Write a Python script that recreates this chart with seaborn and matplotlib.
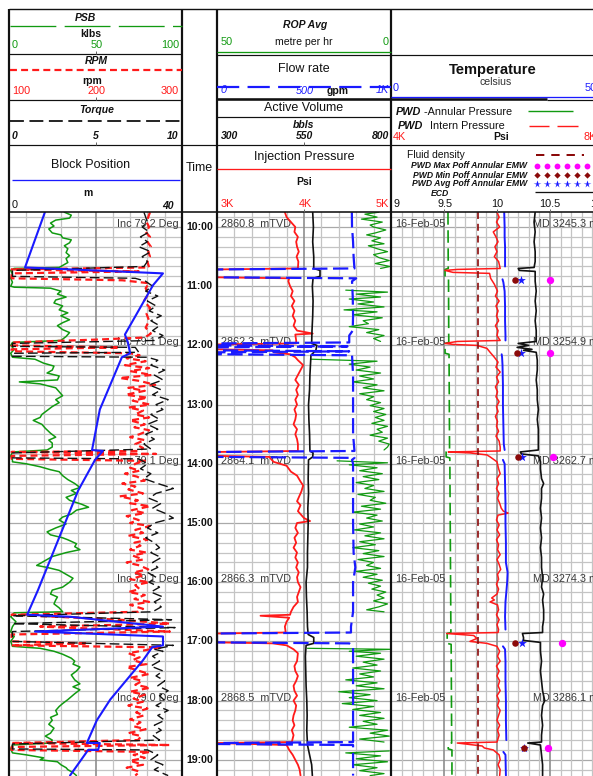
import numpy as np
import pandas as pd
import matplotlib
matplotlib.use("Agg")
import matplotlib.pyplot as plt
import seaborn as sns

# ---------------------------------------------------------------- data
# Track 1: block position (m), PSB (klbs), RPM, torque
BLOCK_POS = [("9:45", 8.3), ("10:41", 3.7), ("10:47", 35.6), ("10:59", 33.3), ("11:49", 26.8),
             ("11:57", 27.5), ("12:08", 28.0), ("12:12", 26.1), ("13:05", 21.0), ("13:46", 19.2),
             ("13:47", 21.7), ("13:56", 19.9), ("14:27", 16.0), ("15:43", 9.0), ("16:08", 6.7),
             ("16:33", 4.2), ("16:35", 14.1), ("16:45", 35.6), ("16:50", 6.0), ("16:55", 35.6),
             ("17:04", 35.6), ("17:06", 33.1), ("17:19", 31.0), ("17:59", 23.4), ("18:20", 20.3),
             ("18:43", 18.0), ("18:43", 21.0), ("18:50", 20.6), ("18:50", 18.3), ("19:16", 14.1)]

PSB = [("9:45", 32), ("9:48", 36), ("9:51", 35), ("9:53", 27), ("9:56", 24), ("9:59", 26), ("10:02", 23),
       ("10:06", 25), ("10:08", 30), ("10:11", 31), ("10:13", 36), ("10:16", 35), ("10:19", 32), ("10:22", 34),
       ("10:26", 33), ("10:29", 35), ("10:32", 33), ("10:36", 34), ("10:39", 31), ("10:41", 29),
       ("10:42", 3), ("10:44", 1), ("10:48", 2), ("10:52", 1), ("10:56", 2), ("11:00", 1), ("11:01", 3),
       ("11:02", 24), ("11:05", 30), ("11:08", 28), ("11:11", 33), ("11:14", 27), ("11:17", 26), ("11:20", 31),
       ("11:24", 29), ("11:27", 34), ("11:30", 30), ("11:34", 35), ("11:37", 31), ("11:40", 28), ("11:44", 31),
       ("11:47", 35), ("11:51", 33), ("11:55", 30),
       ("11:57", 2), ("12:00", 1), ("12:04", 3), ("12:08", 1), ("12:12", 2),
       ("12:14", 15), ("12:18", 20), ("12:21", 26), ("12:25", 25), ("12:28", 22), ("12:31", 29), ("12:35", 28),
       ("12:37", 6), ("12:39", 18), ("12:43", 27), ("12:47", 29), ("12:51", 31), ("12:55", 27), ("12:58", 29),
       ("13:02", 25), ("13:06", 22), ("13:10", 19), ("13:13", 18), ("13:16", 14), ("13:20", 19), ("13:24", 21),
       ("13:29", 24), ("13:33", 27), ("13:36", 23), ("13:39", 25), ("13:43", 25), ("13:46", 22),
       ("13:48", 2), ("13:52", 1), ("13:56", 2), ("13:58", 2),
       ("14:00", 10), ("14:03", 18), ("14:06", 24), ("14:08", 29), ("14:12", 31), ("14:16", 34), ("14:20", 38),
       ("14:24", 41), ("14:27", 36), ("14:30", 39), ("14:34", 33), ("14:37", 35), ("14:41", 42), ("14:44", 46),
       ("14:47", 39), ("14:51", 36), ("14:54", 31), ("14:57", 29), ("15:01", 33), ("15:05", 27), ("15:09", 22),
       ("15:12", 24), ("15:15", 31), ("15:17", 34), ("15:21", 39), ("15:24", 38), ("15:27", 41), ("15:30", 33),
       ("15:34", 25), ("15:38", 21), ("15:43", 16), ("15:45", 22), ("15:48", 29), ("15:52", 33), ("15:56", 37),
       ("16:00", 35), ("16:05", 31), ("16:08", 25), ("16:12", 24), ("16:15", 28), ("16:18", 27), ("16:22", 26),
       ("16:26", 29), ("16:30", 31),
       ("16:31", 3), ("16:35", 1), ("16:40", 4), ("16:45", 2), ("16:50", 1), ("16:55", 3), ("17:00", 1),
       ("17:05", 2),
       ("17:07", 18), ("17:10", 26), ("17:13", 31), ("17:17", 36), ("17:20", 38), ("17:23", 37), ("17:26", 41),
       ("17:30", 39), ("17:34", 36), ("17:39", 38), ("17:43", 41), ("17:46", 37), ("17:49", 41), ("17:53", 38),
       ("17:56", 36), ("17:59", 34), ("18:03", 31), ("18:06", 29), ("18:10", 27), ("18:14", 28), ("18:17", 24),
       ("18:20", 25), ("18:24", 23), ("18:28", 26), ("18:33", 24), ("18:36", 21), ("18:40", 25), ("18:43", 24),
       ("18:45", 2), ("18:49", 1), ("18:53", 2),
       ("18:55", 10), ("18:58", 20), ("19:00", 18), ("19:02", 28), ("19:05", 30), ("19:08", 33), ("19:10", 34),
       ("19:13", 37), ("19:16", 39)]

RPM = [("9:45", 263), ("9:50", 261), ("9:55", 259), ("10:00", 262), ("10:05", 258), ("10:10", 263),
       ("10:15", 260), ("10:20", 264), ("10:25", 261), ("10:30", 263), ("10:35", 260), ("10:41", 262),
       ("10:43", 103), ("10:45", 250), ("10:47", 103), ("10:52", 103), ("10:54", 231), ("10:57", 262),
       ("11:02", 258), ("11:08", 261), ("11:15", 256), ("11:22", 263), ("11:28", 259), ("11:35", 262),
       ("11:42", 258), ("11:48", 264), ("11:52", 257), ("11:54", 205), ("11:57", 103), ("12:00", 103),
       ("12:02", 228), ("12:04", 103), ("12:06", 103), ("12:08", 240), ("12:10", 251), ("12:13", 236),
       ("12:16", 258), ("12:20", 234), ("12:23", 262), ("12:26", 240), ("12:30", 265), ("12:33", 228),
       ("12:36", 251), ("12:40", 269), ("12:43", 238), ("12:46", 257), ("12:50", 235), ("12:53", 260),
       ("12:56", 243), ("13:00", 263), ("13:03", 238), ("13:06", 255), ("13:10", 246), ("13:13", 262),
       ("13:16", 240), ("13:20", 257), ("13:23", 245), ("13:26", 262), ("13:30", 251), ("13:33", 240),
       ("13:36", 257), ("13:40", 246), ("13:44", 255), ("13:47", 251), ("13:48", 103), ("13:50", 270),
       ("13:52", 103), ("13:55", 103), ("13:57", 257), ("14:00", 246), ("14:04", 240), ("14:07", 251),
       ("14:10", 234), ("14:13", 248), ("14:17", 257), ("14:20", 231), ("14:23", 246), ("14:26", 238),
       ("14:30", 255), ("14:33", 228), ("14:37", 249), ("14:40", 240), ("14:43", 263), ("14:47", 242),
       ("14:50", 257), ("14:53", 236), ("14:57", 250), ("15:00", 240), ("15:03", 263), ("15:07", 246),
       ("15:10", 255), ("15:13", 238), ("15:17", 260), ("15:20", 245), ("15:23", 252), ("15:27", 240),
       ("15:30", 259), ("15:33", 243), ("15:37", 255), ("15:40", 236), ("15:43", 251), ("15:47", 261),
       ("15:50", 244), ("15:53", 256), ("15:57", 240), ("16:00", 262), ("16:03", 246), ("16:07", 251),
       ("16:10", 238), ("16:13", 257), ("16:17", 245), ("16:20", 262), ("16:23", 240), ("16:27", 255),
       ("16:30", 249), ("16:33", 103), ("16:38", 228), ("16:42", 286), ("16:45", 136), ("16:50", 286),
       ("16:53", 103), ("17:00", 103), ("17:02", 191), ("17:04", 103), ("17:06", 275), ("17:09", 257),
       ("17:12", 238), ("17:16", 251), ("17:19", 243), ("17:23", 259), ("17:26", 236), ("17:30", 251),
       ("17:33", 262), ("17:37", 240), ("17:40", 254), ("17:44", 246), ("17:47", 263), ("17:51", 240),
       ("17:54", 257), ("17:58", 244), ("18:01", 255), ("18:05", 238), ("18:08", 260), ("18:12", 247),
       ("18:15", 256), ("18:19", 240), ("18:22", 252), ("18:26", 244), ("18:29", 258), ("18:33", 238),
       ("18:36", 253), ("18:40", 249), ("18:43", 103), ("18:45", 286), ("18:47", 103), ("18:50", 103),
       ("18:52", 263), ("18:55", 244), ("18:58", 257), ("19:01", 240), ("19:05", 255), ("19:08", 236),
       ("19:12", 251), ("19:16", 246)]

TORQUE = [("9:45", 7.8), ("9:55", 8.0), ("10:00", 7.7), ("10:05", 8.1), ("10:10", 7.6), ("10:15", 8.0),
          ("10:20", 7.5), ("10:25", 8.2), ("10:30", 7.7), ("10:35", 8.0), ("10:40", 7.8), ("10:44", 0.2),
          ("10:50", 0.2), ("10:52", 7.3), ("10:55", 7.9), ("11:00", 8.3), ("11:05", 7.9), ("11:10", 8.6),
          ("11:15", 8.0), ("11:20", 8.5), ("11:25", 8.1), ("11:30", 8.8), ("11:35", 8.2), ("11:40", 8.7),
          ("11:45", 8.3), ("11:50", 8.9), ("11:55", 8.4), ("11:58", 0.2), ("12:01", 0.2), ("12:02", 7.3),
          ("12:07", 7.5), ("12:08", 0.2), ("12:11", 0.2), ("12:12", 8.0), ("12:15", 8.6), ("12:20", 8.2),
          ("12:25", 9.0), ("12:30", 8.4), ("12:35", 8.9), ("12:40", 8.1), ("12:45", 8.8), ("12:50", 8.3),
          ("12:55", 9.2), ("13:00", 8.5), ("13:05", 8.9), ("13:10", 8.2), ("13:15", 8.7), ("13:20", 8.0),
          ("13:25", 8.6), ("13:30", 7.9), ("13:35", 8.4), ("13:40", 7.8), ("13:45", 8.2), ("13:49", 0.2),
          ("13:54", 0.2), ("13:55", 7.5), ("14:00", 8.0), ("14:05", 7.6), ("14:10", 8.2), ("14:15", 7.8),
          ("14:20", 8.6), ("14:25", 9.5), ("14:30", 8.5), ("14:35", 8.1), ("14:40", 8.8), ("14:45", 8.3),
          ("14:50", 9.0), ("14:55", 9.5), ("15:00", 8.4), ("15:05", 8.0), ("15:10", 8.6), ("15:15", 7.9),
          ("15:20", 8.4), ("15:25", 8.7), ("15:30", 8.2), ("15:35", 8.8), ("15:40", 8.3), ("15:45", 8.6),
          ("15:50", 8.0), ("15:55", 8.5), ("16:00", 8.1), ("16:05", 8.7), ("16:10", 8.2), ("16:15", 8.9),
          ("16:20", 8.4), ("16:25", 8.8), ("16:30", 8.3), ("16:34", 0.2), ("16:38", 9.4), ("16:42", 0.2),
          ("16:46", 9.6), ("16:50", 0.2), ("17:00", 0.2), ("17:04", 9.5), ("17:08", 8.4), ("17:10", 8.9),
          ("17:15", 8.3), ("17:20", 8.7), ("17:25", 8.2), ("17:30", 8.9), ("17:35", 8.5), ("17:40", 9.0),
          ("17:45", 8.6), ("17:50", 9.2), ("17:55", 8.7), ("18:00", 9.0), ("18:05", 8.5), ("18:10", 9.2),
          ("18:15", 8.6), ("18:20", 9.0), ("18:25", 8.4), ("18:30", 8.8), ("18:35", 8.3), ("18:40", 8.7),
          ("18:44", 0.2), ("18:49", 0.2), ("18:50", 8.0), ("18:55", 8.6), ("19:00", 8.2), ("19:05", 8.9),
          ("19:10", 8.4), ("19:16", 9.2)]

# Track 2: injection pressure (psi), active volume (bbls), flow rate (gpm), ROP avg (m/hr)
INJ_PRESSURE = [("9:45", 3780), ("9:50", 3800), ("9:55", 3850), ("10:00", 3900), ("10:05", 3890),
                ("10:10", 3930), ("10:15", 3910), ("10:20", 3920), ("10:25", 3940), ("10:30", 3915),
                ("10:35", 3935), ("10:42", 3930), ("10:43", 3000), ("10:51", 3000), ("10:52", 3830),
                ("10:55", 3820), ("11:00", 3840), ("11:05", 3870), ("11:10", 3850), ("11:15", 3890),
                ("11:20", 3860), ("11:25", 3890), ("11:30", 3870), ("11:35", 3900), ("11:40", 3880),
                ("11:45", 3920), ("11:48", 4100), ("11:49", 3900), ("11:55", 3910), ("11:58", 3910),
                ("11:59", 3000), ("12:04", 3000), ("12:05", 3640), ("12:07", 3650), ("12:09", 3840),
                ("12:12", 3900), ("12:15", 3930), ("12:20", 3990), ("12:25", 3960), ("12:30", 3930),
                ("12:35", 3900), ("12:40", 3940), ("12:45", 3910), ("12:50", 3930), ("12:55", 3900),
                ("13:00", 3920), ("13:05", 3890), ("13:10", 3910), ("13:15", 3900), ("13:20", 3880),
                ("13:25", 3920), ("13:30", 3900), ("13:35", 3920), ("13:40", 3930), ("13:47", 3930),
                ("13:48", 3000), ("13:52", 3000), ("13:53", 3600), ("13:58", 3650), ("14:02", 3800),
                ("14:08", 3850), ("14:12", 3920), ("14:18", 3960), ("14:22", 3990), ("14:28", 3970),
                ("14:32", 3950), ("14:38", 3920), ("14:42", 3960), ("14:48", 3930), ("14:55", 4000),
                ("14:58", 4070), ("15:00", 3920), ("15:05", 3900), ("15:10", 3930), ("15:15", 3890),
                ("15:20", 3910), ("15:25", 3880), ("15:30", 3920), ("15:35", 3900), ("15:40", 3930),
                ("15:45", 3910), ("15:50", 3940), ("15:55", 3920), ("16:00", 3930), ("16:05", 3960),
                ("16:10", 3940), ("16:15", 3920), ("16:20", 3930), ("16:25", 3880), ("16:30", 3850),
                ("16:33", 3840), ("16:34", 3500), ("16:36", 3830), ("16:40", 3800), ("16:45", 3780),
                ("16:51", 3790), ("16:52", 3000), ("17:01", 3000), ("17:02", 3640), ("17:04", 3800),
                ("17:08", 3880), ("17:12", 3930), ("17:20", 3920), ("17:25", 3890), ("17:30", 3900),
                ("17:35", 3930), ("17:40", 3910), ("17:45", 3880), ("17:50", 3890), ("17:55", 3920),
                ("18:00", 3880), ("18:05", 3910), ("18:10", 3900), ("18:15", 3880), ("18:20", 3870),
                ("18:25", 3890), ("18:30", 3860), ("18:35", 3880), ("18:42", 3860), ("18:43", 3000),
                ("18:45", 3800), ("18:50", 3830), ("18:55", 3870), ("19:00", 3900), ("19:05", 3930),
                ("19:10", 3950), ("19:16", 3960)]

ACTIVE_VOL = [("9:45", 575), ("10:00", 577), ("10:15", 575), ("10:30", 578), ("10:42", 578), ("10:44", 596),
              ("10:50", 596), ("10:52", 576), ("11:00", 574), ("11:15", 576), ("11:30", 575), ("11:45", 573),
              ("11:58", 572), ("12:00", 587), ("12:05", 584), ("12:10", 570), ("12:30", 567), ("12:45", 566),
              ("13:00", 563), ("13:15", 564), ("13:30", 566), ("13:47", 567), ("13:49", 576), ("13:53", 575),
              ("13:56", 563), ("14:15", 562), ("14:30", 563), ("14:45", 561), ("15:00", 562), ("15:15", 561),
              ("15:30", 560), ("15:45", 560), ("16:00", 556), ("16:15", 557), ("16:30", 559), ("16:45", 560),
              ("16:53", 562), ("16:56", 578), ("17:02", 578), ("17:04", 556), ("17:15", 554), ("17:30", 555),
              ("17:45", 556), ("18:00", 558), ("18:15", 559), ("18:30", 558), ("18:45", 560), ("18:55", 566),
              ("19:05", 572), ("19:16", 574)]

FLOW_RATE = [("9:45", 775), ("10:00", 776), ("10:15", 782), ("10:30", 785), ("10:42", 790), ("10:43", 0),
             ("10:51", 0), ("10:52", 800), ("10:55", 776), ("11:10", 780), ("11:30", 782), ("11:45", 780),
             ("11:50", 760), ("11:57", 760), ("11:58", 0), ("12:00", 0), ("12:01", 750), ("12:02", 0),
             ("12:05", 0), ("12:06", 760), ("12:07", 0), ("12:09", 0), ("12:10", 776), ("12:30", 782),
             ("13:00", 782), ("13:30", 782), ("13:47", 790), ("13:48", 0), ("13:53", 0), ("13:54", 790),
             ("13:56", 776), ("14:00", 782), ("14:30", 782), ("15:00", 782), ("15:30", 785), ("15:45", 795),
             ("16:00", 782), ("16:30", 782), ("16:45", 770), ("16:51", 770), ("16:52", 0), ("17:01", 0),
             ("17:02", 760), ("17:05", 782), ("17:30", 782), ("18:00", 782), ("18:30", 782), ("18:42", 782),
             ("18:43", 0), ("18:44", 0), ("18:45", 782), ("19:16", 782)]

# (time, m/hr, drilling stand)
ROP_AVG = [("9:45", 3.5, 1), ("9:47", 7.5, 1), ("9:50", 4.0, 1), ("9:52", 8.5, 1), ("9:55", 2.5, 1),
           ("9:58", 6.0, 1), ("10:00", 5.0, 1), ("10:03", 1.5, 1), ("10:06", 4.5, 1), ("10:08", 7.0, 1),
           ("10:11", 3.0, 1), ("10:14", 5.5, 1), ("10:17", 2.0, 1), ("10:19", 6.5, 1), ("10:22", 4.0, 1),
           ("10:25", 1.0, 1), ("10:28", 5.0, 1), ("10:31", 3.5, 1), ("10:34", 0.5, 1), ("10:37", 4.5, 1),
           ("10:40", 0.3, 1), ("10:42", 3.0, 1),
           ("11:04", 13.0, 2), ("11:06", 1.0, 2), ("11:08", 10.0, 2), ("11:11", 3.0, 2), ("11:13", 12.0, 2),
           ("11:16", 5.0, 2), ("11:18", 9.5, 2), ("11:21", 2.0, 2), ("11:24", 13.5, 2), ("11:26", 4.0, 2),
           ("11:29", 11.0, 2), ("11:32", 2.5, 2), ("11:35", 8.0, 2), ("11:38", 6.5, 2), ("11:41", 12.0, 2),
           ("11:44", 3.5, 2), ("11:47", 7.0, 2), ("11:50", 2.0, 2), ("11:53", 5.0, 2), ("11:56", 3.0, 2),
           ("12:14", 23.0, 3), ("12:16", 4.0, 3), ("12:19", 12.0, 3), ("12:22", 6.0, 3), ("12:25", 10.0, 3),
           ("12:28", 3.0, 3), ("12:31", 9.0, 3), ("12:34", 5.0, 3), ("12:37", 11.0, 3), ("12:40", 4.0, 3),
           ("12:43", 8.0, 3), ("12:46", 2.0, 3), ("12:49", 9.0, 3), ("12:52", 5.0, 3), ("12:55", 7.0, 3),
           ("12:58", 3.0, 3), ("13:01", 6.0, 3), ("13:04", 2.0, 3), ("13:07", 5.0, 3), ("13:10", 1.5, 3),
           ("13:13", 4.5, 3), ("13:16", 2.0, 3), ("13:19", 5.5, 3), ("13:22", 1.0, 3), ("13:25", 4.0, 3),
           ("13:28", 2.5, 3), ("13:31", 6.0, 3), ("13:34", 1.0, 3), ("13:37", 3.5, 3), ("13:40", 0.5, 3),
           ("13:43", 1.0, 3), ("13:46", 2.0, 3),
           ("13:57", 15.5, 4), ("13:59", 1.0, 4), ("14:01", 12.0, 4), ("14:04", 4.0, 4), ("14:07", 9.0, 4),
           ("14:10", 2.5, 4), ("14:13", 8.0, 4), ("14:16", 3.5, 4), ("14:19", 10.0, 4), ("14:22", 5.0, 4),
           ("14:25", 7.5, 4), ("14:28", 2.0, 4), ("14:31", 9.5, 4), ("14:34", 4.5, 4), ("14:37", 6.0, 4),
           ("14:40", 1.5, 4), ("14:43", 8.5, 4), ("14:46", 3.0, 4), ("14:49", 11.0, 4), ("14:52", 4.0, 4),
           ("14:55", 7.0, 4), ("14:58", 2.5, 4), ("15:01", 9.0, 4), ("15:04", 5.0, 4), ("15:07", 10.5, 4),
           ("15:10", 3.0, 4), ("15:13", 7.5, 4), ("15:16", 2.0, 4), ("15:19", 9.0, 4), ("15:22", 4.5, 4),
           ("15:25", 11.0, 4), ("15:28", 3.5, 4), ("15:31", 8.0, 4), ("15:34", 2.0, 4), ("15:37", 9.5, 4),
           ("15:40", 5.0, 4), ("15:43", 7.0, 4), ("15:46", 3.0, 4), ("15:49", 10.0, 4), ("15:52", 4.0, 4),
           ("15:55", 8.0, 4), ("15:58", 2.5, 4), ("16:01", 6.5, 4), ("16:04", 3.0, 4), ("16:07", 5.5, 4),
           ("16:10", 1.5, 4), ("16:13", 4.0, 4), ("16:16", 2.0, 4), ("16:19", 5.0, 4), ("16:22", 1.0, 4),
           ("16:25", 3.5, 4), ("16:28", 7.0, 4), ("16:30", 2.0, 4),
           ("17:07", 24.0, 5), ("17:08", 0.3, 5), ("17:10", 12.0, 5), ("17:12", 3.0, 5), ("17:15", 10.0, 5),
           ("17:18", 2.0, 5), ("17:21", 8.0, 5), ("17:24", 4.0, 5), ("17:27", 11.0, 5), ("17:30", 3.0, 5),
           ("17:33", 9.0, 5), ("17:36", 5.0, 5), ("17:39", 13.0, 5), ("17:42", 4.0, 5), ("17:45", 10.0, 5),
           ("17:48", 2.0, 5), ("17:51", 15.0, 5), ("17:54", 6.0, 5), ("17:57", 12.0, 5), ("18:00", 4.0, 5),
           ("18:03", 14.0, 5), ("18:06", 5.0, 5), ("18:09", 11.0, 5), ("18:12", 3.0, 5), ("18:15", 9.0, 5),
           ("18:18", 2.0, 5), ("18:21", 8.0, 5), ("18:24", 4.0, 5), ("18:27", 12.0, 5), ("18:30", 1.0, 5),
           ("18:33", 6.0, 5), ("18:36", 0.5, 5), ("18:39", 9.0, 5), ("18:42", 2.0, 5),
           ("18:51", 0.5, 6), ("18:53", 13.0, 6), ("18:56", 3.0, 6), ("18:59", 10.0, 6), ("19:02", 1.0, 6),
           ("19:05", 11.0, 6), ("19:08", 4.0, 6), ("19:11", 9.0, 6), ("19:14", 2.0, 6), ("19:16", 6.0, 6)]

# Track 3: PWD pressures (psi), temperature (C), ECD / fluid density / PWD EMW (ppg)
PWD_ANNULAR = [("9:45", 5075), ("10:42", 5080), ("10:43", 5020), ("10:51", 5020), ("10:52", 5085),
               ("11:57", 5090), ("11:58", 5020), ("12:08", 5020), ("12:09", 5095), ("13:47", 5105),
               ("13:48", 5040), ("13:53", 5040), ("13:54", 5110), ("16:51", 5130), ("16:52", 5060),
               ("17:02", 5060), ("17:03", 5135), ("18:43", 5145), ("18:44", 5080), ("18:49", 5080),
               ("18:50", 5150), ("19:16", 5150)]

PWD_INTERN = [("9:45", 6000), ("9:50", 6040), ("9:55", 5990), ("10:00", 6050), ("10:05", 5930),
              ("10:10", 5980), ("10:15", 6020), ("10:20", 5960), ("10:25", 6000), ("10:30", 5950),
              ("10:35", 6030), ("10:42", 6060), ("10:43", 5250), ("10:44", 5020), ("10:46", 5170),
              ("10:47", 5860), ("10:52", 5880), ("10:58", 5950), ("11:05", 6010), ("11:10", 5970),
              ("11:15", 6040), ("11:20", 5980), ("11:25", 6020), ("11:30", 5990), ("11:35", 6030),
              ("11:40", 5970), ("11:45", 6020), ("11:50", 6000), ("11:55", 6060), ("11:56", 5250),
              ("11:58", 5020), ("11:59", 5170), ("12:00", 5620), ("12:03", 5810), ("12:07", 5870),
              ("12:12", 5950), ("12:17", 6020), ("12:22", 5980), ("12:27", 6060), ("12:32", 5990),
              ("12:37", 6030), ("12:42", 5970), ("12:47", 6010), ("12:52", 5980), ("12:57", 6040),
              ("13:02", 5990), ("13:07", 6020), ("13:12", 5970), ("13:17", 6010), ("13:22", 5990),
              ("13:27", 6030), ("13:32", 5980), ("13:37", 6040), ("13:43", 6060), ("13:47", 6060),
              ("13:48", 5080), ("13:49", 5490), ("13:51", 5810), ("13:53", 5870), ("13:58", 6000),
              ("14:05", 6030), ("14:10", 6060), ("14:15", 6000), ("14:20", 6030), ("14:25", 5990),
              ("14:30", 6040), ("14:35", 6010), ("14:40", 6050), ("14:45", 6080), ("14:48", 6120),
              ("14:50", 6210), ("14:52", 6020), ("14:57", 5990), ("15:02", 6040), ("15:07", 6000),
              ("15:12", 6050), ("15:17", 5990), ("15:22", 6030), ("15:27", 6010), ("15:32", 6060),
              ("15:37", 6000), ("15:42", 6040), ("15:47", 6070), ("15:52", 6010), ("15:57", 6030),
              ("16:02", 5990), ("16:07", 6030), ("16:12", 6000), ("16:16", 5900), ("16:18", 5950),
              ("16:20", 5870), ("16:23", 6010), ("16:28", 6030), ("16:33", 5990), ("16:38", 6040),
              ("16:43", 6000), ("16:48", 6030), ("16:51", 6020), ("16:52", 5050), ("16:54", 5560),
              ("16:57", 5620), ("17:00", 5490), ("17:02", 5810), ("17:05", 6000), ("17:10", 6050),
              ("17:15", 6010), ("17:20", 6060), ("17:25", 5990), ("17:30", 6040), ("17:35", 6000),
              ("17:40", 6050), ("17:45", 6020), ("17:50", 6060), ("17:55", 6000), ("18:00", 6040),
              ("18:05", 6010), ("18:10", 6060), ("18:15", 6030), ("18:20", 6000), ("18:25", 6050),
              ("18:30", 6010), ("18:35", 6040), ("18:42", 6000), ("18:43", 5250), ("18:46", 5720),
              ("18:48", 5760), ("18:50", 5930), ("18:55", 6040), ("19:00", 6060), ("19:05", 6020),
              ("19:10", 6060), ("19:16", 6050)]

# (time, celsius, circulation period)
TEMPERATURE = [("9:45", 26.7, 1), ("10:00", 26.8, 1), ("10:10", 26.8, 1), ("10:20", 26.9, 1),
               ("10:30", 26.9, 1), ("10:40", 26.9, 1),
               ("10:53", 26.3, 2), ("10:56", 26.5, 2), ("11:05", 26.8, 2), ("11:20", 26.9, 2),
               ("11:35", 26.9, 2), ("11:50", 27.0, 2), ("11:55", 27.0, 2),
               ("12:09", 26.1, 3), ("12:12", 26.2, 3), ("12:20", 26.3, 3), ("12:40", 26.4, 3),
               ("13:00", 26.4, 3), ("13:20", 26.5, 3), ("13:40", 26.6, 3), ("13:46", 26.8, 3),
               ("13:56", 26.4, 4), ("14:00", 26.8, 4), ("14:20", 26.9, 4), ("14:40", 27.0, 4),
               ("15:00", 27.0, 4), ("15:20", 27.1, 4), ("15:40", 27.1, 4), ("15:50", 27.5, 4),
               ("16:00", 27.4, 4), ("16:20", 27.0, 4), ("16:35", 26.9, 4), ("16:48", 27.0, 4),
               ("17:05", 26.4, 5), ("17:08", 26.9, 5), ("17:20", 27.0, 5), ("17:40", 27.0, 5),
               ("18:00", 27.1, 5), ("18:20", 27.1, 5), ("18:40", 27.2, 5),
               ("18:52", 26.5, 6), ("18:55", 27.0, 6), ("19:16", 27.1, 6)]

ECD = [("9:45", 10.36), ("9:55", 10.35), ("10:05", 10.36), ("10:15", 10.35), ("10:25", 10.36),
       ("10:35", 10.36), ("10:41", 10.35), ("10:42", 10.20), ("10:44", 10.21), ("10:45", 10.36),
       ("10:55", 10.36), ("11:05", 10.37), ("11:15", 10.36), ("11:25", 10.37), ("11:35", 10.36),
       ("11:45", 10.37), ("11:56", 10.37), ("11:58", 10.20), ("12:00", 10.30), ("12:02", 10.19),
       ("12:04", 10.33), ("12:05", 10.25), ("12:07", 10.37), ("12:15", 10.38), ("12:25", 10.38),
       ("12:35", 10.37), ("12:45", 10.38), ("12:55", 10.38), ("13:05", 10.39), ("13:15", 10.38),
       ("13:25", 10.39), ("13:35", 10.39), ("13:46", 10.39), ("13:48", 10.22), ("13:50", 10.23),
       ("13:52", 10.39), ("13:58", 10.41), ("14:05", 10.41), ("14:15", 10.42), ("14:20", 10.44),
       ("14:25", 10.42), ("14:35", 10.42), ("14:45", 10.41), ("14:55", 10.42), ("15:05", 10.41),
       ("15:15", 10.42), ("15:25", 10.41), ("15:35", 10.42), ("15:45", 10.42), ("15:55", 10.43),
       ("16:05", 10.42), ("16:12", 10.44), ("16:18", 10.43), ("16:28", 10.44), ("16:38", 10.44),
       ("16:45", 10.43), ("16:51", 10.43), ("16:52", 10.24), ("16:56", 10.25), ("16:59", 10.25),
       ("17:01", 10.41), ("17:10", 10.41), ("17:20", 10.42), ("17:30", 10.41), ("17:40", 10.42),
       ("17:50", 10.43), ("18:00", 10.45), ("18:05", 10.43), ("18:15", 10.42), ("18:25", 10.43),
       ("18:35", 10.42), ("18:42", 10.42), ("18:43", 10.29), ("18:45", 10.41), ("18:55", 10.42),
       ("19:05", 10.43), ("19:16", 10.43)]

FLUID_DENSITY = [("9:45", 9.82), ("19:16", 9.82)]

CONN_TIME = ["10:54", "12:08", "13:53", "17:02", "18:48"]
PWD_MAX_EMW = [10.50, 10.50, 10.53, 10.61, 10.48]
PWD_MIN_EMW = [10.17, 10.19, 10.20, 10.17, 10.25]
PWD_AVG_EMW = [10.23, 10.23, 10.24, 10.24, 10.25]

HOUR_LABELS = ["10:00", "11:00", "12:00", "13:00", "14:00", "15:00", "16:00", "17:00", "18:00", "19:00"]
NOTE_HOURS = ["10:00", "12:00", "14:00", "16:00", "18:00"]
INC_LABELS = ["Inc 79.2 Deg", "Inc 79.1 Deg", "Inc 79.1 Deg", "Inc 79.1 Deg", "Inc 79.0 Deg"]
TVD_LABELS = ["2860.8  mTVD", "2862.3  mTVD", "2864.1  mTVD", "2866.3  mTVD", "2868.5  mTVD"]
MD_LABELS = ["MD 3245.3 m", "MD 3254.9 m", "MD 3262.7 m", "MD 3274.3 m", "MD 3286.1 m"]
DATE_LABEL = "16-Feb-05"

# ---------------------------------------------------------------- style
sns.set_style("white")
plt.rcParams["font.family"] = ["Liberation Sans", "DejaVu Sans"]
plt.rcParams["lines.scale_dashes"] = False

GREEN = "#119a11"
RED = "#ff1a1a"
BLUE = "#1a1aff"
BLACK = "#111111"
DKRED = "#8b0a0a"
MAGENTA = "#ff00ff"
GRID = "#c4c4c4"
GRID_MAJOR = "#8e8e8e"
NOTE = "#3a3a3a"

W, H = 593, 776
TOP_PX, BOT_PX = 212, 776
PX_PER_HOUR = 59.2
T_TOP = 10 + (TOP_PX - 227) / PX_PER_HOUR
T_BOT = 10 + (BOT_PX - 227) / PX_PER_HOUR


def to_hours(t):
    h, m = t.split(":")
    return int(h) + int(m) / 60.0


def frame(rows, cols=("t", "v")):
    df = pd.DataFrame(rows, columns=list(cols))
    df["t"] = df["t"].map(to_hours)
    return df


fig = plt.figure(figsize=(W / 100, H / 100), dpi=100)


def px_axes(x0, y0, w, h, **kw):
    return fig.add_axes([x0 / W, 1 - (y0 + h) / H, w / W, h / H], **kw)


all_axes = []
track_bases = []


def base_track(x0, w, xlim, step, major_every):
    share = track_bases[0] if track_bases else None
    ax = px_axes(x0, TOP_PX, w, BOT_PX - TOP_PX, sharey=share)
    ax.set_xlim(*xlim)
    ax.set_xticks([])
    ax.set_yticks([])
    for sp in ax.spines.values():
        sp.set_visible(False)
    # time grid: every 10 minutes, hour lines a little darker
    for k in range(59, 116):
        t = k / 6
        ax.axhline(t, color="#a9a9a9" if k % 6 == 0 else GRID, lw=0.9, zorder=0)
    n = int(round((xlim[1] - xlim[0]) / step))
    for i in range(1, n):
        xv = xlim[0] + i * step
        major = (i % major_every == 0)
        ax.axvline(xv, color=GRID_MAJOR if major else GRID, lw=1.2 if major else 0.9, zorder=0)
    all_axes.append((ax, xlim))
    track_bases.append(ax)
    return ax


def overlay(base, xlim):
    ax = fig.add_axes(base.get_position(), sharey=base)
    ax.patch.set_alpha(0)
    ax.axis("off")
    all_axes.append((ax, xlim))
    return ax


def trace(ax, df, color, lw, ls="-", units=None):
    sns.lineplot(data=df, x="v", y="t", units=units, ax=ax, color=color, linewidth=lw,
                 linestyle=ls, sort=False, estimator=None, orient="y")


# ---------------------------------------------------------------- track 1
t1 = base_track(9, 173, (0, 40), 4, 5)
a_psb = overlay(t1, (0, 100))
a_rpm = overlay(t1, (100, 300))
a_tq = overlay(t1, (0, 10))
a_blk = overlay(t1, (0, 40))
trace(a_psb, frame(PSB), GREEN, 1.1)
trace(a_rpm, frame(RPM), RED, 1.6, (0, (5, 3)))
trace(a_tq, frame(TORQUE), BLACK, 1.0, (0, (7, 3)))
trace(a_blk, frame(BLOCK_POS), BLUE, 1.5)

# ---------------------------------------------------------------- time track
tt = px_axes(182, TOP_PX, 35, BOT_PX - TOP_PX, sharey=t1)
tt.axis("off")
for lab in HOUR_LABELS:
    tt.text(0.5, to_hours(lab), lab, transform=tt.get_yaxis_transform(), ha="center",
            va="center", fontsize=7.6, fontweight="bold", color=BLACK)

# ---------------------------------------------------------------- track 2
t2 = base_track(217, 174, (3000, 5000), 200, 5)
a_rop = overlay(t2, (50, 0))
a_inj = overlay(t2, (3000, 5000))
a_vol = overlay(t2, (300, 800))
a_flow = overlay(t2, (0, 1000))
trace(a_rop, frame(ROP_AVG, ("t", "v", "seg")), GREEN, 0.9, units="seg")
trace(a_inj, frame(INJ_PRESSURE), RED, 1.3)
trace(a_vol, frame(ACTIVE_VOL), BLACK, 1.2)
trace(a_flow, frame(FLOW_RATE), BLUE, 1.6, (0, (11, 4)))

# ---------------------------------------------------------------- track 3
t3 = base_track(391, 212, (9, 11), 0.1, 5)
a_pwd = overlay(t3, (4000, 8000))
a_tmp = overlay(t3, (0, 50))
a_emw = overlay(t3, (9, 11))
trace(a_pwd, frame(PWD_ANNULAR), GREEN, 1.2, (0, (9, 4)))
trace(a_emw, frame(FLUID_DENSITY), DKRED, 1.2, (0, (5, 3.5)))
trace(a_pwd, frame(PWD_INTERN), RED, 1.1)
trace(a_tmp, frame(TEMPERATURE, ("t", "v", "seg")), BLUE, 1.4, units="seg")
trace(a_emw, frame(ECD), BLACK, 1.2)
conn_h = [to_hours(t) for t in CONN_TIME]
sns.scatterplot(x=PWD_AVG_EMW, y=conn_h, ax=a_emw, marker="*", s=45, color=BLUE, linewidth=0, zorder=5)
sns.scatterplot(x=PWD_MIN_EMW, y=conn_h, ax=a_emw, marker="o", s=22, color=DKRED, linewidth=0, zorder=6)
sns.scatterplot(x=PWD_MAX_EMW, y=conn_h, ax=a_emw, marker="o", s=28, color=MAGENTA, linewidth=0, zorder=6)

# ---------------------------------------------------------------- in-track notes
for hr, inc, tvd, md in zip(NOTE_HOURS, INC_LABELS, TVD_LABELS, MD_LABELS):
    y = to_hours(hr)
    t1.text(0.983, y, inc, transform=t1.get_yaxis_transform(), ha="right", va="baseline",
            fontsize=7.8, color=NOTE, zorder=10)
    t2.text(0.023, y, tvd, transform=t2.get_yaxis_transform(), ha="left", va="baseline",
            fontsize=7.8, color=NOTE, zorder=10)
    t3.text(0.019, y, DATE_LABEL, transform=t3.get_yaxis_transform(), ha="left", va="baseline",
            fontsize=7.8, color=NOTE, zorder=10)
    t3.text(0.67, y, md, transform=t3.get_yaxis_transform(), ha="left", va="baseline",
            fontsize=7.8, color=NOTE, zorder=10)

# reset limits after seaborn autoscaling
for ax, xl in all_axes:
    ax.set_xlim(*xl)
    ax.set_xlabel("")
    ax.set_ylabel("")
for ax in track_bases:
    ax.set_ylim(T_BOT, T_TOP)

# ---------------------------------------------------------------- header and frame
hd = fig.add_axes([0, 0, 1, 1])
hd.set_xlim(0, W)
hd.set_ylim(H, 0)
hd.axis("off")
hd.patch.set_alpha(0)

PX = 0.72  # one pixel in points


def hline(y, x0, x1, color=BLACK, lw=1.0, ls="-"):
    hd.plot([x0, x1], [y, y], color=color, lw=lw * PX, linestyle=ls, solid_capstyle="butt")


def vline(x, y0, y1, color=BLACK, lw=1.0):
    hd.plot([x, x], [y0, y1], color=color, lw=lw * PX, solid_capstyle="butt")


def txt(x, y, s, ha="center", size=7.5, color=BLACK, weight="normal", style="normal"):
    hd.text(x, y, s, ha=ha, va="center", fontsize=size, color=color, fontweight=weight,
            fontstyle=style)


# frame lines
for xb in (9, 182, 217, 391):
    vline(xb, 9, H, lw=2.2)
hline(9, 9, W, lw=1.4)
hline(212, 9, W, lw=1.6)
hline(145, 9, W, lw=1.2)
hline(54, 9, 182, lw=1.2)
hline(100, 9, 182, lw=1.2)
hline(55, 217, W, lw=1.2)
hline(99, 217, 547, lw=2.6)
hline(100, 547, W, lw=1.2)
hline(117, 217, 391, lw=1.2)

# track 1 header
txt(85, 18, "PSB", weight="bold", style="italic")
hline(26, 10, 182, color=GREEN, lw=1.3, ls=(0, (33, 6)))
txt(91, 34, "klbs", weight="bold")
txt(12, 45, "0", ha="left", color=GREEN, size=7.8)
txt(97, 45, "50", color=GREEN, size=7.8)
txt(179, 45, "100", ha="right", color=GREEN, size=7.8)
vline(96, 51, 54, color="#666666")
txt(96, 61, "RPM", weight="bold", style="italic")
hline(70, 10, 182, color=RED, lw=2.2, ls=(0, (5, 3)))
txt(92, 81, "rpm", weight="bold")
txt(12, 91, "100", ha="left", color=RED, size=7.8)
txt(96, 91, "200", color=RED, size=7.8)
txt(179, 91, "300", ha="right", color=RED, size=7.8)
vline(96, 97, 100, color="#666666")
txt(97, 110, "Torque", weight="bold", style="italic")
hline(121, 10, 182, color=BLACK, lw=1.8, ls=(0, (10, 4)))
txt(12, 136, "0", ha="left", weight="bold", style="italic")
txt(96, 136, "5", weight="bold", style="italic")
txt(178, 136, "10", ha="right", weight="bold", style="italic")
vline(96, 142, 145, color="#666666")
txt(91, 165, "Block Position", size=9)
hline(180, 12, 180, color=BLUE, lw=1.3)
txt(88, 193, "m", weight="bold")
txt(12, 205, "0", ha="left", size=7.8)
txt(174, 206, "40", ha="right", weight="bold", style="italic")

# time header
txt(199, 168, "Time", size=9)

# track 2 header
txt(305, 25, "ROP Avg", weight="bold", style="italic")
txt(221, 42, "50", ha="left", color=GREEN, size=7.8)
txt(304, 42, "metre per hr", size=7.6)
txt(389, 42, "0", ha="right", color=GREEN, size=7.8)
hline(52, 217, 391, color=GREEN, lw=1.3)
txt(304, 69, "Flow rate", size=9)
hline(87, 217, 391, color=BLUE, lw=2.2, ls=(0, (16, 6)))
txt(221, 90, "0", ha="left", color=BLUE, style="italic", size=7.8)
txt(305, 91, "500", color=BLUE, style="italic", size=7.8)
txt(338, 91, "gpm", weight="bold")
txt(389, 90, "1K", ha="right", color=BLUE, style="italic", size=7.8)
txt(304, 108, "Active Volume", size=9)
txt(304, 125, "bbls", weight="bold", style="italic")
txt(221, 136, "300", ha="left", weight="bold", style="italic")
txt(305, 136, "550", weight="bold", style="italic")
txt(389, 136, "800", ha="right", weight="bold", style="italic")
vline(304, 142, 145, color="#666666")
txt(304, 157, "Injection Pressure", size=9)
hline(169, 217, 391, color=RED, lw=1.3)
txt(304, 182, "Psi", weight="bold")
txt(221, 204, "3K", ha="left", color=RED, size=7.8)
txt(305, 204, "4K", color=RED, size=7.8)
txt(389, 204, "5K", ha="right", color=RED, size=7.8)
vline(304, 209, 212, color="#666666")

# track 3 header
txt(493, 70, "Temperature", size=10.5, weight="bold")
txt(496, 82, "celsius", size=7.6, color="#333333")
txt(393, 88, "0", ha="left", color=BLUE, size=7.8)
txt(585, 88, "50", ha="left", color=BLUE, size=7.8)
hline(97, 391, W, color=BLUE, lw=1.3)
txt(396, 112, "PWD", ha="left", weight="bold", style="italic", size=7.8)
txt(424, 112, "-Annular Pressure", ha="left", size=7.8)
hline(111, 528, 573, color=GREEN, lw=1.4)
txt(398, 126, "PWD", ha="left", weight="bold", style="italic", size=7.8)
txt(430, 126, "Intern Pressure", ha="left", size=7.8)
hline(126, 529, 549, color=RED, lw=1.4)
hline(126, 557, 578, color=RED, lw=1.4)
txt(393, 137, "4K", ha="left", color=RED, size=7.8)
txt(501, 137, "Psi", weight="bold")
txt(583, 137, "8K", ha="left", color=RED, size=7.8)
txt(407, 155, "Fluid density", ha="left", size=7.4)
hline(155, 536, 584, color=DKRED, lw=2.0, ls=(0, (6, 5)))
txt(527, 166, "PWD Max Poff Annular EMW", ha="right", size=6.2, weight="bold", style="italic")
txt(527, 175, "PWD Min Poff Annular EMW", ha="right", size=6.2, weight="bold", style="italic")
txt(527, 184, "PWD Avg Poff Annular EMW", ha="right", size=6.2, weight="bold", style="italic")
txt(440, 193, "ECD", size=6.2, weight="bold", style="italic")
sw_x = [537, 547, 557, 567, 577, 587]
hd.plot(sw_x, [166] * 6, ls="none", marker="o", ms=4.2, color=MAGENTA, mec="none")
hd.plot(sw_x, [175] * 6, ls="none", marker="D", ms=3.2, color=DKRED, mec="none")
hd.plot(sw_x, [184] * 6, ls="none", marker="*", ms=5.5, color=BLUE, mec="none")
hline(192, 535, W, color=BLACK, lw=1.3)
txt(394, 204, "9", ha="left", size=7.8)
txt(445, 204, "9.5", size=7.8)
txt(497, 204, "10", size=7.8)
txt(550, 204, "10.5", size=7.8)
txt(590, 204, "11", ha="left", size=7.8)
for xt in (444, 497, 550):
    vline(xt, 209, 212, color="#666666")

fig.savefig("out.png", dpi=100)
